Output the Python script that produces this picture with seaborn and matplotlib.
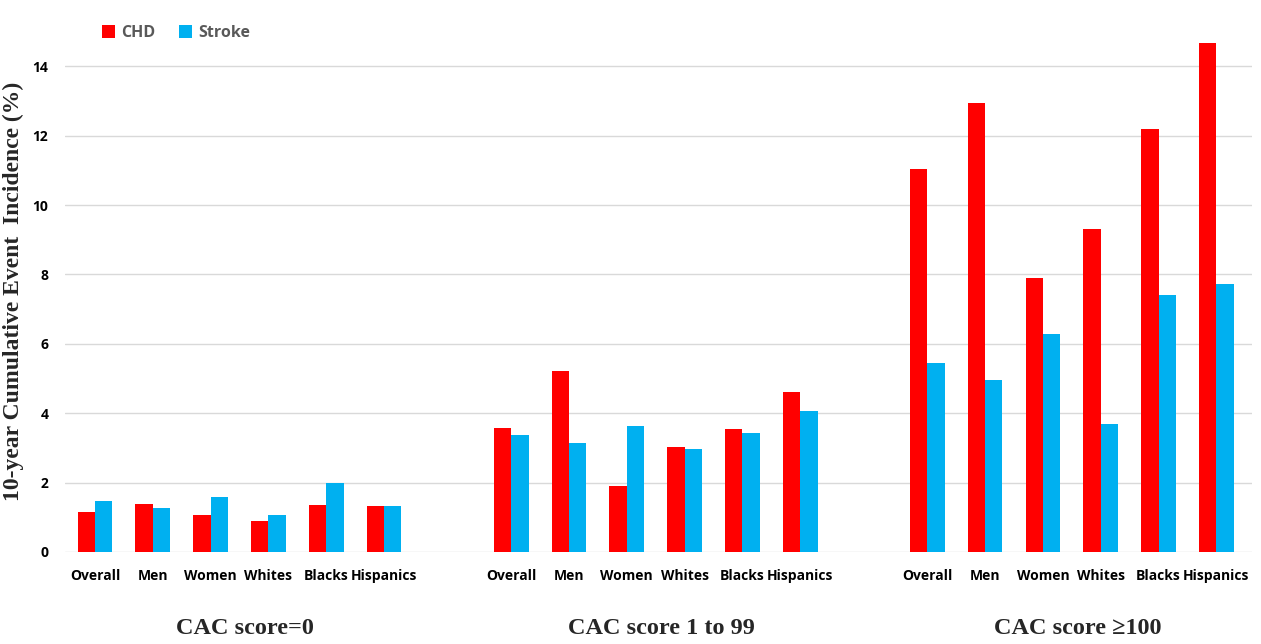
import pandas as pd
import matplotlib
matplotlib.use("Agg")
import matplotlib.pyplot as plt
import seaborn as sns

# Data
groups = ["CAC score=0", "CAC score 1 to 99", "CAC score \u2265100"]
categories = ["Overall", "Men", "Women", "Whites", "Blacks", "Hispanics"]
chd = [
    [1.15, 1.38, 1.05, 0.88, 1.35, 1.32],
    [3.57, 5.22, 1.90, 3.02, 3.53, 4.62],
    [11.04, 12.95, 7.90, 9.30, 12.20, 14.67],
]
stroke = [
    [1.47, 1.28, 1.57, 1.05, 2.00, 1.32],
    [3.37, 3.14, 3.63, 2.98, 3.42, 4.07],
    [5.45, 4.95, 6.28, 3.68, 7.40, 7.73],
]

group_step = 7.2
rows = []
for g, grp in enumerate(groups):
    for c, cat in enumerate(categories):
        pos = g * group_step + c
        rows.append({"pos": pos, "group": grp, "category": cat, "event": "CHD", "value": chd[g][c]})
        rows.append({"pos": pos, "group": grp, "category": cat, "event": "Stroke", "value": stroke[g][c]})
df = pd.DataFrame(rows)

sns.set_style("white")

fig = plt.figure(figsize=(12.61, 6.44), dpi=100)
ax = fig.add_axes([0.0515, 0.143, 0.9415, 0.808])

sns.barplot(data=df, x="pos", y="value", hue="event", native_scale=True,
            palette={"CHD": "#FF0000", "Stroke": "#00B0F0"}, width=0.6,
            saturation=1, linewidth=0, ax=ax)

ax.set_ylim(0, 15)
ax.set_xlim(-0.52, 20.02)
ax.set_yticks(range(0, 15, 2))
ax.yaxis.grid(True, color="#D9D9D9", linewidth=1)
ax.set_axisbelow(True)
for s in ax.spines.values():
    s.set_visible(False)

tick_pos = sorted(df["pos"].unique())
ax.set_xticks(tick_pos)
ax.set_xticklabels(categories * len(groups))
ax.tick_params(axis="both", length=0, labelsize=10, colors="black")
ax.tick_params(axis="x", pad=12)
ax.tick_params(axis="y", pad=12)
for lab in ax.get_xticklabels() + ax.get_yticklabels():
    lab.set_fontfamily("Open Sans")
    lab.set_fontweight("bold")

ax.set_xlabel("")
ax.set_ylabel("10-year Cumulative Event  Incidence (%)", fontfamily="Liberation Serif",
              fontweight="bold", fontsize=17, labelpad=6)

for g, grp in enumerate(groups):
    ax.text(g * group_step + 2.6, -2.2, grp, ha="center", va="center",
            fontfamily="Liberation Serif", fontweight="bold", fontsize=17.5,
            transform=ax.transData)

leg = ax.legend(loc="upper left", bbox_to_anchor=(0.019, 1.04), ncol=2, frameon=False,
                handlelength=0.8, handleheight=0.8, columnspacing=1.5, handletextpad=0.4,
                prop={"family": "Open Sans", "weight": "bold", "size": 11.5})
for t in leg.get_texts():
    t.set_color("#595959")

fig.savefig("out.png", dpi=100)
